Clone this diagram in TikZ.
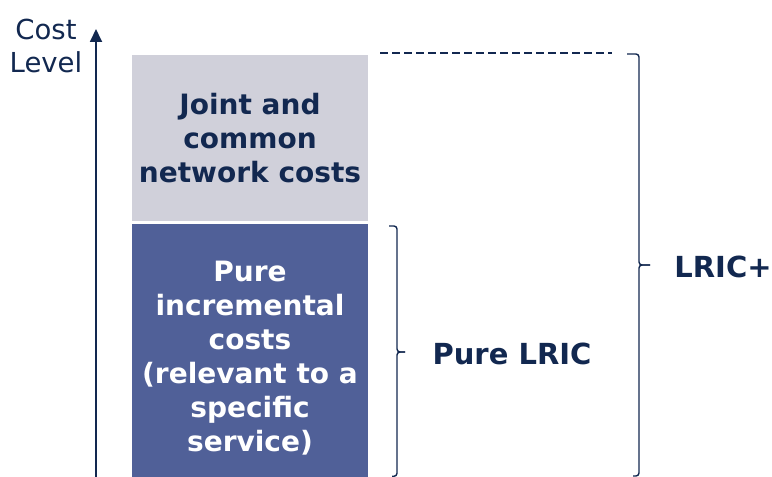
\documentclass[tikz,border=0pt]{standalone}
\usepackage{fontspec}
\setmainfont{DejaVu Sans}
\usepackage{tikz}
\usetikzlibrary{arrows.meta}
\definecolor{navy}{RGB}{18,40,80}
\definecolor{jointgray}{RGB}{208,208,218}
\definecolor{pureblue}{RGB}{80,96,152}

\begin{document}
\begin{tikzpicture}[x=1pt,y=1pt,
  every node/.style={inner sep=0pt,outer sep=0pt},
  box/.style={minimum width=236pt},
  boxtext/.style={align=center,font=\fontsize{28}{34}\selectfont\bfseries},
  bracetext/.style={font=\fontsize{29}{34}\selectfont\bfseries,text=navy},
  brc/.style={draw=navy,line width=1.4pt,rounded corners=3pt}]
  \useasboundingbox (0,0) rectangle (772,477);

  \node[box,fill=jointgray,minimum height=166pt] (joint) at (250,339) {};
  \node[box,fill=pureblue,minimum height=253pt] (pure) at (250,126.5) {};
  \node[boxtext,text=navy] (jointtxt) at (250,339) {Joint and\\common\\network costs};
  \node[boxtext,text=white] (puretxt) at (250,119) {Pure\\incremental\\costs\\(relevant to a\\specific\\service)};

  \coordinate (axisbot) at (96,0);
  \coordinate (axistop) at (96,448);
  \node[align=center,text=navy,font=\fontsize{27.5}{33}\selectfont] (axislbl) at (46,431) {Cost\\Level};

  \coordinate (dashstart) at (380,424);
  \coordinate (dashend) at (612,424);

  \coordinate (bigtop) at (627,423);
  \coordinate (bigmid) at (639,212);
  \coordinate (bigtip) at (650,212);
  \coordinate (bigbot) at (633,1);
  \coordinate (smalltop) at (389,251);
  \coordinate (smallmid) at (397,125);
  \coordinate (smalltip) at (405,125);
  \coordinate (smallbot) at (392,0.7);

  \node[bracetext] (lricplus) at (723,210.5) {LRIC+};
  \node[bracetext] (purelric) at (512,123) {Pure LRIC};

  \draw[navy,line width=1.8pt,-{Triangle[width=12pt,length=13pt]}](axisbot)--(axistop);
  \draw[navy,line width=1.3pt,dash pattern=on 8pt off 4pt](dashstart)--(dashend);
  \draw[brc](bigtop)-|(bigmid)--(bigtip);
  \draw[brc](bigtip)--(bigmid)|-(bigbot);
  \draw[brc](smalltop)-|(smallmid)--(smalltip);
  \draw[brc](smalltip)--(smallmid)|-(smallbot);
\end{tikzpicture}
\end{document}
